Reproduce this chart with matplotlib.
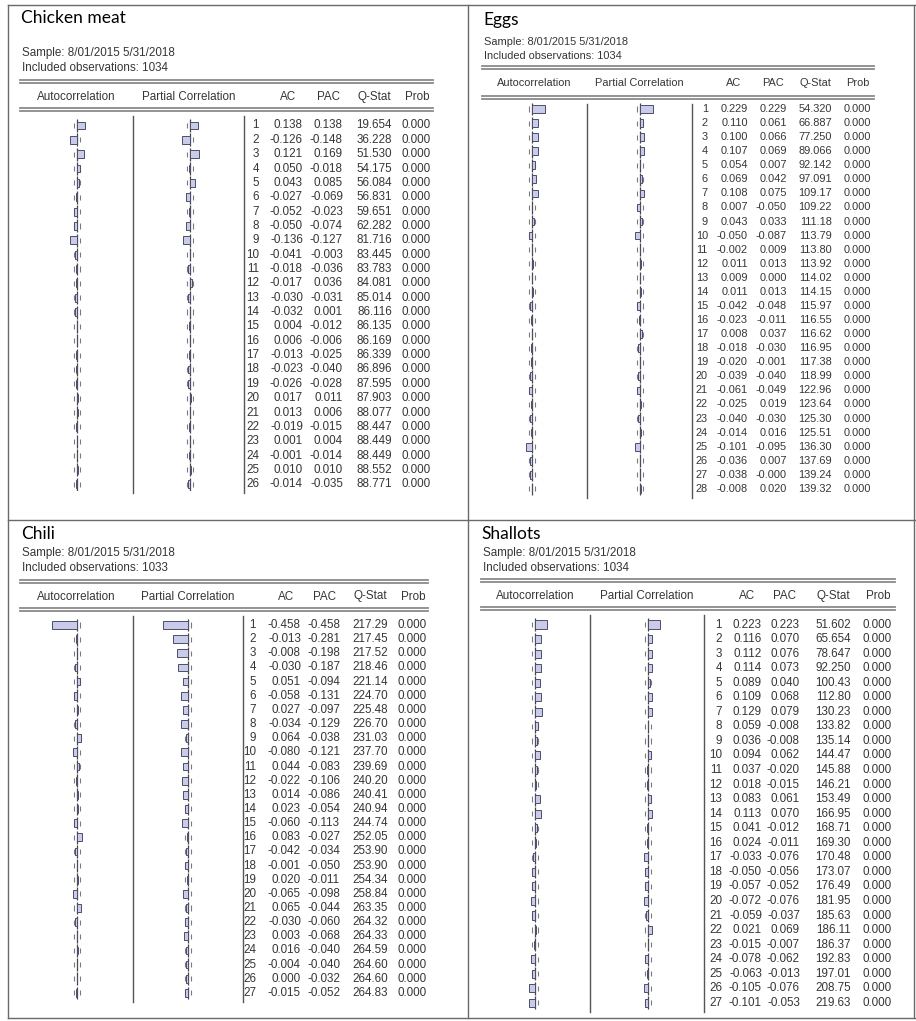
import matplotlib
matplotlib.use("Agg")
import matplotlib.pyplot as plt
from matplotlib.lines import Line2D
import numpy as np

# ---- data ----
chicken_nobs = 1034
chicken_ac = [0.138, -0.126, 0.121, 0.050, 0.043, -0.027, -0.052, -0.050, -0.136, -0.041,
              -0.018, -0.017, -0.030, -0.032, 0.004, 0.006, -0.013, -0.023, -0.026, 0.017,
              0.013, -0.019, 0.001, -0.001, 0.010, -0.014]
chicken_pac = [0.138, -0.148, 0.169, -0.018, 0.085, -0.069, -0.023, -0.074, -0.127, -0.003,
               -0.036, 0.036, -0.031, 0.001, -0.012, -0.006, -0.025, -0.040, -0.028, 0.011,
               0.006, -0.015, 0.004, -0.014, 0.010, -0.035]
chicken_q = [19.654, 36.228, 51.530, 54.175, 56.084, 56.831, 59.651, 62.282, 81.716, 83.445,
             83.783, 84.081, 85.014, 86.116, 86.135, 86.169, 86.339, 86.896, 87.595, 87.903,
             88.077, 88.447, 88.449, 88.449, 88.552, 88.771]
chicken_prob = [0.000] * 26

eggs_nobs = 1034
eggs_ac = [0.229, 0.110, 0.100, 0.107, 0.054, 0.069, 0.108, 0.007, 0.043, -0.050,
           -0.002, 0.011, 0.009, 0.011, -0.042, -0.023, 0.008, -0.018, -0.020, -0.039,
           -0.061, -0.025, -0.040, -0.014, -0.101, -0.036, -0.038, -0.008]
eggs_pac = [0.229, 0.061, 0.066, 0.069, 0.007, 0.042, 0.075, -0.050, 0.033, -0.087,
            0.009, 0.013, 0.000, 0.013, -0.048, -0.011, 0.037, -0.030, -0.001, -0.040,
            -0.049, 0.019, -0.030, 0.016, -0.095, 0.007, -0.000, 0.020]
eggs_q = [54.320, 66.887, 77.250, 89.066, 92.142, 97.091, 109.17, 109.22, 111.18, 113.79,
          113.80, 113.92, 114.02, 114.15, 115.97, 116.55, 116.62, 116.95, 117.38, 118.99,
          122.96, 123.64, 125.30, 125.51, 136.30, 137.69, 139.24, 139.32]
eggs_prob = [0.000] * 28

chili_nobs = 1033
chili_ac = [-0.458, -0.013, -0.008, -0.030, 0.051, -0.058, 0.027, -0.034, 0.064, -0.080,
            0.044, -0.022, 0.014, 0.023, -0.060, 0.083, -0.042, -0.001, 0.020, -0.065,
            0.065, -0.030, 0.003, 0.016, -0.004, 0.000, -0.015]
chili_pac = [-0.458, -0.281, -0.198, -0.187, -0.094, -0.131, -0.097, -0.129, -0.038, -0.121,
             -0.083, -0.106, -0.086, -0.054, -0.113, -0.027, -0.034, -0.050, -0.011, -0.098,
             -0.044, -0.060, -0.068, -0.040, -0.040, -0.032, -0.052]
chili_q = [217.29, 217.45, 217.52, 218.46, 221.14, 224.70, 225.48, 226.70, 231.03, 237.70,
           239.69, 240.20, 240.41, 240.94, 244.74, 252.05, 253.90, 253.90, 254.34, 258.84,
           263.35, 264.32, 264.33, 264.59, 264.60, 264.60, 264.83]
chili_prob = [0.000] * 27

shallots_nobs = 1034
shallots_ac = [0.223, 0.116, 0.112, 0.114, 0.089, 0.109, 0.129, 0.059, 0.036, 0.094,
               0.037, 0.018, 0.083, 0.113, 0.041, 0.024, -0.033, -0.050, -0.057, -0.072,
               -0.059, 0.021, -0.015, -0.078, -0.063, -0.105, -0.101]
shallots_pac = [0.223, 0.070, 0.076, 0.073, 0.040, 0.068, 0.079, -0.008, -0.008, 0.062,
                -0.020, -0.015, 0.061, 0.070, -0.012, -0.011, -0.076, -0.056, -0.052, -0.076,
                -0.037, 0.069, -0.007, -0.062, -0.013, -0.076, -0.053]
shallots_q = [51.602, 65.654, 78.647, 92.250, 100.43, 112.80, 130.23, 133.82, 135.14, 144.47,
              145.88, 146.21, 153.49, 166.95, 168.71, 169.30, 170.48, 173.07, 176.49, 181.95,
              185.63, 186.11, 186.37, 192.83, 197.01, 208.75, 219.63]
shallots_prob = [0.000] * 27

sample_text = "Sample: 8/01/2015 5/31/2018"
headers = ["AC", "PAC", "Q-Stat", "Prob"]

W, H = 916, 1021
fig = plt.figure(figsize=(W / 100, H / 100), dpi=100)
fig.patch.set_facecolor("white")

EV_FONT = "Liberation Sans"
TXT = "#363636"


def fx(x):
    return x / W


def fy(y):
    return 1 - y / H


def line(xs, ys, **kw):
    fig.add_artist(Line2D([fx(x) for x in xs], [fy(y) for y in ys],
                          transform=fig.transFigure, **kw))


def fmt_q(v):
    return "%.3f" % v if v < 100 else "%.2f" % v


def draw_panel(title, nobs, ac, pac, q, prob, lay):
    n = len(ac)
    lags = np.arange(1, n + 1)
    fs = lay["fs"]
    row1, sp = lay["row1"], lay["sp"]
    ytop = row1 - sp / 2
    ybot = row1 + (n - 0.5) * sp
    x0, x1 = lay["x0"], lay["x1"]
    d1, d2 = lay["divs"]

    fig.text(fx(lay["tx"]), fy(lay["ty"]), title, family="Lato", fontsize=12.5,
             color="black", va="top", ha="left")
    fig.text(fx(x0 + 2), fy(lay["sy"]), sample_text, family=EV_FONT, fontsize=fs,
             color=TXT, va="center")
    fig.text(fx(x0 + 2), fy(lay["sy"] + 15 * fs / 8.4),
             "Included observations: %d" % nobs, family=EV_FONT, fontsize=fs,
             color=TXT, va="center")

    # double rules above and below the header
    for yy in (lay["l1"], lay["l2"]):
        line([x0, x1], [yy, yy], color="#8a8a8a", lw=1.3)
        line([x0, x1], [yy + 3, yy + 3], color="#8a8a8a", lw=1.3)

    # header row, all on one baseline
    hb = (lay["l1"] + lay["l2"] + 3) / 2 + 4 * fs / 8.4
    fig.text(fx((x0 + d1) / 2), fy(hb), "Autocorrelation", family=EV_FONT,
             fontsize=fs, color=TXT, ha="center", va="baseline")
    fig.text(fx((d1 + d2) / 2), fy(hb), "Partial Correlation", family=EV_FONT,
             fontsize=fs, color=TXT, ha="center", va="baseline")
    offs = [15, 15, 18, 14]
    for h, c, o in zip(headers, lay["cols"][1:], offs):
        fig.text(fx(c - o * fs / 8.4), fy(hb), h, family=EV_FONT, fontsize=fs,
                 color=TXT, ha="center", va="baseline")

    # column separators
    for d in (d1, d2):
        line([d, d], [lay["l2"] + 8, ybot + 2], color="#555555", lw=1.0)

    bound = 2 / np.sqrt(nobs)
    for vals, zx in zip((ac, pac), lay["zeros"]):
        ax = fig.add_axes([fx(zx - 55), fy(ybot), 110 / W, (ybot - ytop) / H])
        ax.set_xlim(-1, 1)
        ax.set_ylim(n + 0.5, 0.5)
        ax.axis("off")
        ax.vlines(np.zeros(n), lags - 0.45, lags + 0.45, color="#444444", lw=0.9, zorder=1)
        ax.vlines(np.full(n, -bound), lags - 0.18, lags + 0.18, color="#7a7a7a", lw=0.8)
        ax.vlines(np.full(n, bound), lags - 0.18, lags + 0.18, color="#7a7a7a", lw=0.8)
        ax.barh(lags, vals, height=0.55, color="#c9cce9", edgecolor="#4d4d6b",
                lw=0.7, zorder=3)

    axt = fig.add_axes([fx(d2), fy(ybot), (x1 - d2) / W, (ybot - ytop) / H])
    axt.set_xlim(d2, x1)
    axt.set_ylim(n + 0.5, 0.5)
    axt.axis("off")
    c = lay["cols"]
    for i, lag in enumerate(lags):
        cells = [str(lag), "%.3f" % ac[i], "%.3f" % pac[i], fmt_q(q[i]), "%.3f" % prob[i]]
        for s, cx in zip(cells, c):
            axt.text(cx, lag, s, family=EV_FONT, fontsize=fs, color=TXT,
                     ha="right", va="center")


layouts = {
    "chicken": dict(tx=21, ty=10, sy=53, l1=80, l2=108, row1=125.5, sp=14.35,
                    x0=20, x1=433, divs=(133, 244), zeros=(77, 190),
                    cols=(259, 303, 343, 392, 431), fs=8.4),
    "eggs": dict(tx=483, ty=12, sy=42, l1=66, l2=96, row1=109, sp=14.07,
                 x0=482, x1=874, divs=(587, 692), zeros=(532, 640),
                 cols=(708, 748, 787, 832, 871), fs=7.9),
    "chili": dict(tx=21, ty=526, sy=553, l1=580, l2=608, row1=625, sp=14.15,
                  x0=20, x1=428, divs=(133, 243), zeros=(77, 188),
                  cols=(256, 301, 340, 388, 427), fs=8.4),
    "shallots": dict(tx=481, ty=526, sy=553, l1=579, l2=607, row1=624.5, sp=14.55,
                     x0=481, x1=895, divs=(590, 704), zeros=(535, 648),
                     cols=(722, 762, 800, 851, 892), fs=8.4),
}

draw_panel("Chicken meat", chicken_nobs, chicken_ac, chicken_pac, chicken_q,
           chicken_prob, layouts["chicken"])
draw_panel("Eggs", eggs_nobs, eggs_ac, eggs_pac, eggs_q, eggs_prob, layouts["eggs"])
draw_panel("Chili", chili_nobs, chili_ac, chili_pac, chili_q, chili_prob, layouts["chili"])
draw_panel("Shallots", shallots_nobs, shallots_ac, shallots_pac, shallots_q,
           shallots_prob, layouts["shallots"])

# outer table borders
bc = dict(color="#6a6a6a", lw=1.0)
line([8, 916], [5, 5], **bc)
line([8, 916], [520, 520], **bc)
line([8, 916], [1018, 1018], **bc)
line([8, 8], [5, 1018], **bc)
line([468, 468], [5, 1018], **bc)
line([914, 914], [5, 1018], **bc)

fig.savefig("out.png", dpi=100, facecolor="white")
